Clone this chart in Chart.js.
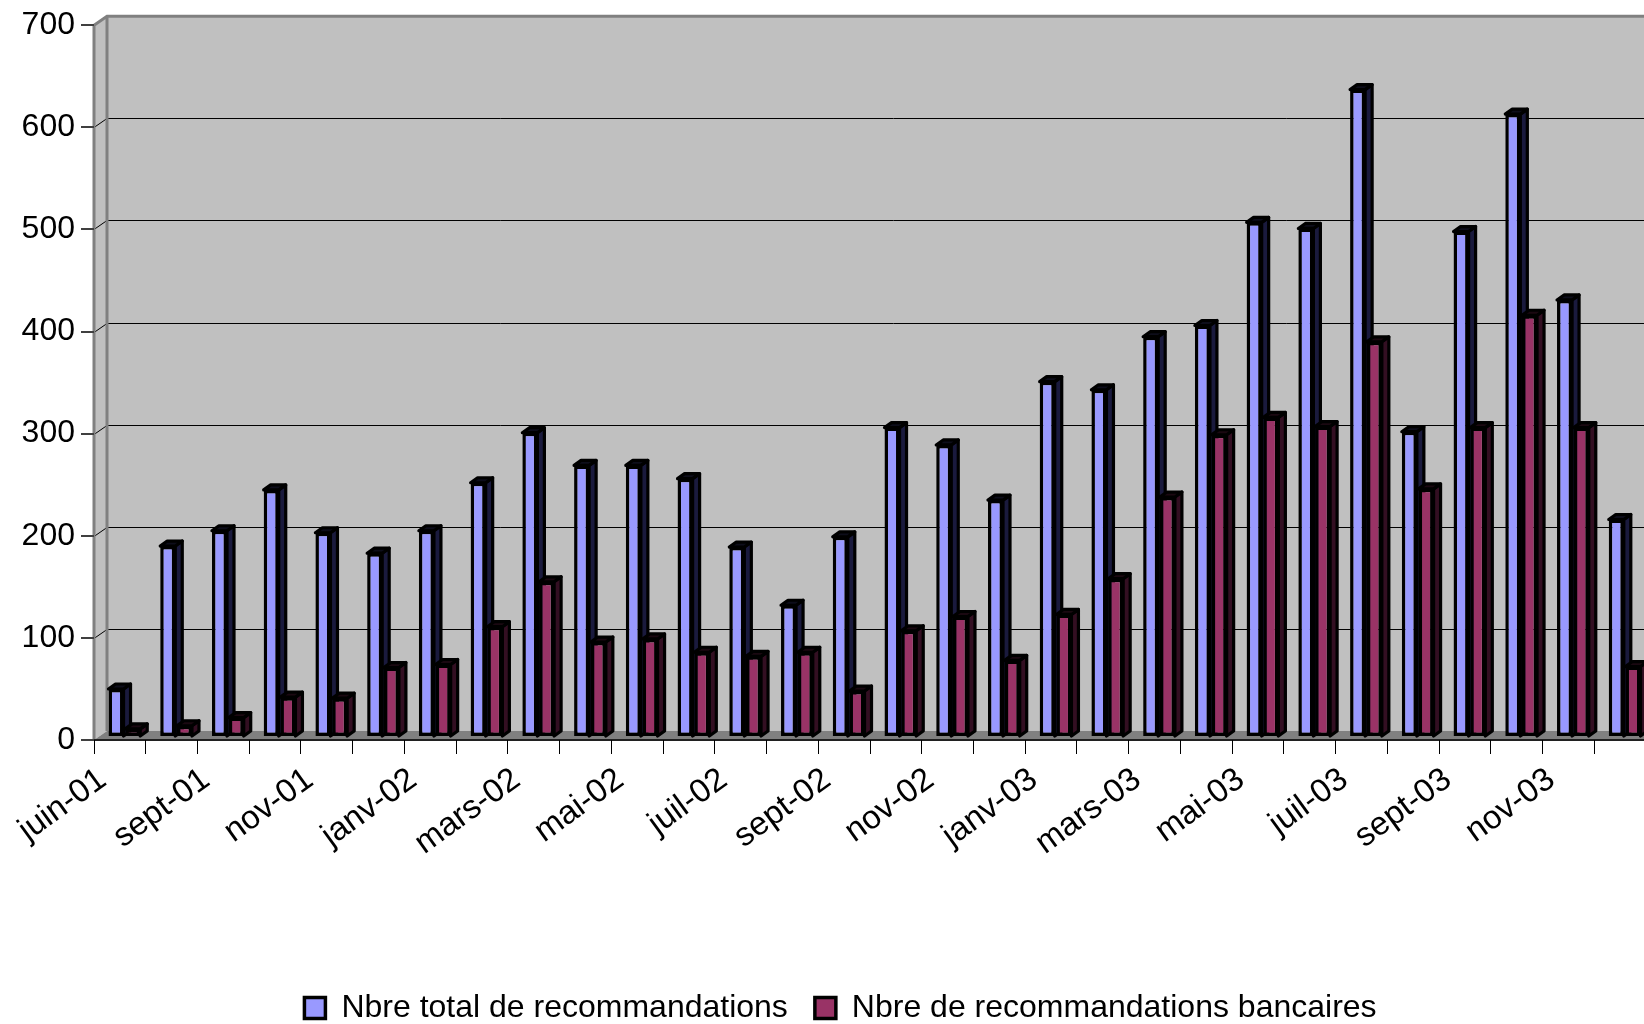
<!DOCTYPE html>
<html lang="fr">
<head>
<meta charset="utf-8">
<title>Recommandations</title>
<script src="https://cdn.jsdelivr.net/npm/chart.js@4.4.1/dist/chart.umd.min.js"></script>
<style>
  html, body { margin: 0; padding: 0; background: #fff; overflow: hidden; }
  #wrap { width: 1680px; height: 1024px; }
</style>
</head>
<body>
<div id="wrap"><canvas id="reco" width="1680" height="1024"></canvas></div>
<script>
const months = [
  'juin-01', 'juil-01', 'sept-01', 'oct-01', 'nov-01', 'déc-01',
  'janv-02', 'févr-02', 'mars-02', 'avr-02', 'mai-02', 'juin-02',
  'juil-02', 'août-02', 'sept-02', 'oct-02', 'nov-02', 'déc-02',
  'janv-03', 'févr-03', 'mars-03', 'avr-03', 'mai-03', 'juin-03',
  'juil-03', 'août-03', 'sept-03', 'oct-03', 'nov-03', 'déc-03'
];
const totalReco = [
  47, 187, 202, 242, 200, 180, 202, 249, 298, 266,
  266, 253, 186, 129, 196, 303, 286, 232, 348, 340,
  392, 403, 504, 498, 634, 299, 495, 610, 428, 213
];
const bankReco = [
  8, 11, 19, 39, 38, 68, 71, 108, 152, 93,
  96, 83, 79, 83, 45, 104, 118, 75, 120, 155,
  235, 296, 313, 304, 387, 243, 303, 413, 303, 69
];
const yMax = 700;
const yStep = 100;

const FONT = "'Liberation Sans', Arial, sans-serif";

// fake 3D: depth of the walls and of the bars
const WALL_DX = 13, WALL_DY = -9;
const BAR_DX = 7, BAR_DY = -5;
const BAR_SHIFT_X = 4.5, BAR_SHIFT_Y = -3;

function drawFaces(ctx, meta, sideColor, topColor) {
  ctx.lineWidth = 3.2;
  ctx.strokeStyle = '#000';
  ctx.lineJoin = 'round';
  meta.data.forEach(bar => {
    const {x, y, base, width} = bar.getProps(['x', 'y', 'base', 'width'], true);
    const l = x - width / 2, r = x + width / 2;
    // side
    ctx.beginPath();
    ctx.moveTo(r, y);
    ctx.lineTo(r + BAR_DX, y + BAR_DY);
    ctx.lineTo(r + BAR_DX, base + BAR_DY);
    ctx.lineTo(r, base);
    ctx.closePath();
    ctx.fillStyle = sideColor;
    ctx.fill();
    ctx.stroke();
    // top
    ctx.beginPath();
    ctx.moveTo(l, y);
    ctx.lineTo(l + BAR_DX, y + BAR_DY);
    ctx.lineTo(r + BAR_DX, y + BAR_DY);
    ctx.lineTo(r, y);
    ctx.closePath();
    ctx.fillStyle = topColor;
    ctx.fill();
    ctx.stroke();
  });
}

const frame3d = {
  id: 'frame3d',
  beforeDraw(chart) {
    const {ctx, chartArea: a, scales: {y}} = chart;
    const W = chart.width;
    const L = a.left, T = a.top, B = a.bottom;
    ctx.save();
    // side wall
    ctx.fillStyle = '#c0c0c0';
    ctx.beginPath();
    ctx.moveTo(L, T);
    ctx.lineTo(L + WALL_DX, T + WALL_DY);
    ctx.lineTo(L + WALL_DX, B + WALL_DY);
    ctx.lineTo(L, B);
    ctx.closePath();
    ctx.fill();
    // back wall
    ctx.fillRect(L + WALL_DX, T + WALL_DY, W - L - WALL_DX, B - T);
    // floor
    ctx.fillStyle = '#808080';
    ctx.beginPath();
    ctx.moveTo(L, B);
    ctx.lineTo(L + WALL_DX, B + WALL_DY);
    ctx.lineTo(W, B + WALL_DY);
    ctx.lineTo(W, B);
    ctx.closePath();
    ctx.fill();
    // gridlines on the back wall
    ctx.strokeStyle = '#000';
    ctx.lineWidth = 1;
    for (let v = yStep; v < yMax; v += yStep) {
      const py = Math.round(y.getPixelForValue(v)) + 0.5;
      ctx.beginPath();
      ctx.moveTo(L, py);
      ctx.lineTo(L + WALL_DX, py + WALL_DY);
      ctx.lineTo(W, py + WALL_DY);
      ctx.stroke();
    }
    // wall edges
    ctx.strokeStyle = '#808080';
    ctx.lineWidth = 3;
    ctx.beginPath();
    ctx.moveTo(L, B);
    ctx.lineTo(L, T);
    ctx.lineTo(L + WALL_DX, T + WALL_DY);
    ctx.lineTo(W, T + WALL_DY);
    ctx.moveTo(L + WALL_DX, T + WALL_DY);
    ctx.lineTo(L + WALL_DX, B + WALL_DY);
    ctx.stroke();
    // front edge of the floor
    ctx.strokeStyle = '#202020';
    ctx.lineWidth = 2;
    ctx.beginPath();
    ctx.moveTo(L, B);
    ctx.lineTo(W, B);
    ctx.stroke();
    ctx.restore();
  },
  beforeDatasetsDraw(chart) {
    const ctx = chart.ctx;
    ctx.save();
    ctx.translate(BAR_SHIFT_X, BAR_SHIFT_Y);
    // blue faces go first so the red fronts cover them
    drawFaces(ctx, chart.getDatasetMeta(0), '#1a1a3d', '#0d0d1a');
  },
  afterDatasetDraw(chart, args) {
    if (args.index === 1) {
      drawFaces(chart.ctx, chart.getDatasetMeta(1), '#330f22', '#1a0811');
    }
  },
  afterDatasetsDraw(chart) {
    chart.ctx.restore();
  },
  afterLayout(chart) {
    // centre the legend under the whole picture, not the padded box
    const lg = chart.legend;
    if (lg) {
      lg.top += 10; lg.bottom += 10;
      lg.left += 17.5; lg.right += 17.5;
    }
  }
};

new Chart(document.getElementById('reco'), {
  type: 'bar',
  data: {
    labels: months,
    datasets: [
      {
        label: 'Nbre total de recommandations',
        data: totalReco,
        backgroundColor: '#9999ff',
        borderColor: '#000',
        borderWidth: 3.5,
        borderSkipped: false,
        categoryPercentage: 0.646,
        barPercentage: 0.9,
        clip: false
      },
      {
        label: 'Nbre de recommandations bancaires',
        data: bankReco,
        backgroundColor: '#993366',
        borderColor: '#000',
        borderWidth: 3.5,
        borderSkipped: false,
        categoryPercentage: 0.646,
        barPercentage: 0.9,
        clip: false
      }
    ]
  },
  options: {
    responsive: false,
    devicePixelRatio: 1,
    animation: false,
    layout: { padding: { left: 0, right: 34, top: 24, bottom: 0 } },
    plugins: {
      tooltip: { enabled: false },
      legend: {
        position: 'bottom',
        labels: {
          color: '#000',
          font: { family: FONT, size: 32 },
          boxWidth: 21,
          boxHeight: 21,
          padding: 27
        }
      }
    },
    scales: {
      x: {
        grid: {
          offset: true,
          drawOnChartArea: false,
          drawTicks: true,
          tickLength: 14,
          color: '#000',
          lineWidth: 1
        },
        border: { display: false },
        ticks: {
          autoSkip: false,
          minRotation: 36,
          maxRotation: 36,
          padding: 6,
          labelOffset: -17,
          color: '#000',
          font: { family: FONT, size: 33 },
          callback(v, i) { return i % 2 === 0 ? this.getLabelForValue(v) : ''; }
        },
        afterFit(scale) { scale.height = 215; }
      },
      y: {
        min: 0,
        max: yMax,
        grid: {
          drawOnChartArea: false,
          drawTicks: true,
          tickLength: 13,
          color: '#404040',
          lineWidth: 2
        },
        border: { display: false },
        ticks: {
          stepSize: yStep,
          padding: 6,
          color: '#000',
          font: { family: FONT, size: 32 }
        },
        afterFit(scale) { scale.width = 94; }
      }
    }
  },
  plugins: [frame3d]
});
</script>
</body>
</html>
